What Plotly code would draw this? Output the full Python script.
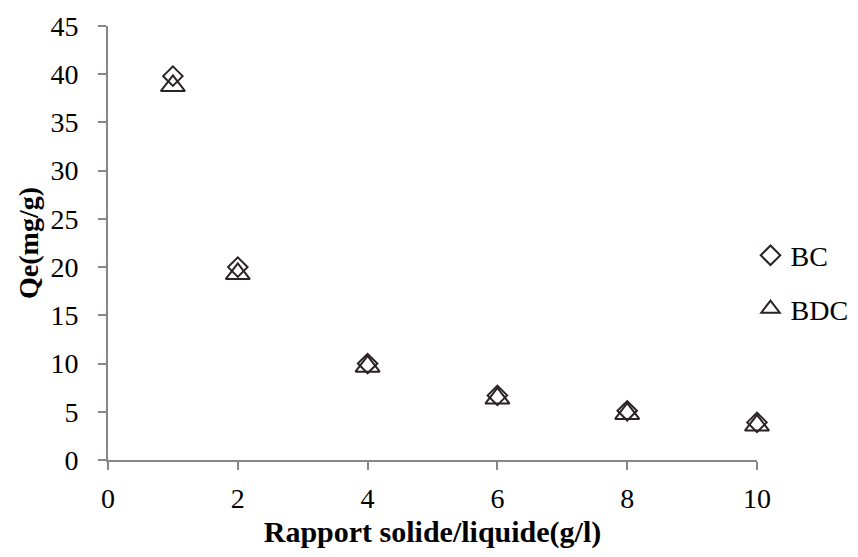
import plotly.graph_objects as go

ratio = [1, 2, 4, 6, 8, 10]
bc = [39.8, 20.0, 10.0, 6.7, 5.1, 3.9]
bdc = [38.8, 19.3, 9.7, 6.4, 4.8, 3.6]
x_ticks = [0, 2, 4, 6, 8, 10]
y_ticks = [0, 5, 10, 15, 20, 25, 30, 35, 40, 45]

FONT = "Liberation Serif, Times New Roman, serif"
MARK = "#2a2224"
AXIS = "#8a8586"

fig = go.Figure()
fig.add_trace(go.Scatter(
    x=ratio, y=bc, mode="markers", name="BC", legendgroup="a", cliponaxis=False,
    marker=dict(symbol="diamond-open", size=15, color=MARK, line=dict(width=2, color=MARK)),
))
fig.add_trace(go.Scatter(
    x=ratio, y=bdc, mode="markers", name="BDC", legendgroup="b", cliponaxis=False,
    marker=dict(symbol="triangle-up-open", size=21, color=MARK, line=dict(width=2, color=MARK)),
))

fig.update_layout(
    width=858, height=557,
    margin=dict(l=108, r=101, t=26, b=97, autoexpand=False),
    paper_bgcolor="white", plot_bgcolor="white",
    font=dict(family=FONT, size=28, color="black"),
    showlegend=True,
    legend=dict(x=0.99, y=0.41, xanchor="left", yanchor="middle",
                font=dict(family=FONT, size=28, color="black"),
                traceorder="grouped", tracegroupgap=14, itemwidth=30,
                itemsizing="trace",
                bgcolor="rgba(0,0,0,0)"),
    xaxis=dict(
        range=[0, 10], tickvals=x_ticks, showgrid=False, zeroline=False,
        showline=True, linecolor=AXIS, linewidth=2,
        ticks="outside", ticklen=8, tickwidth=2, tickcolor=AXIS,
        tickfont=dict(family=FONT, size=28, color="black"), ticklabelstandoff=4,
        title=dict(text="<b>Rapport solide/liquide(g/l)</b>", standoff=8,
                   font=dict(family=FONT, size=30, color="black")),
        automargin=False,
    ),
    yaxis=dict(
        range=[0, 45], tickvals=y_ticks, showgrid=False, zeroline=False,
        showline=True, linecolor=AXIS, linewidth=2,
        ticks="outside", ticklen=8, tickwidth=2, tickcolor=AXIS,
        tickfont=dict(family=FONT, size=28, color="black"), ticklabelstandoff=14,
        title=dict(text="<b>Qe(mg/g)</b>", standoff=4,
                   font=dict(family=FONT, size=28, color="black")),
        automargin=False,
    ),
)

fig.write_html("out.html")
